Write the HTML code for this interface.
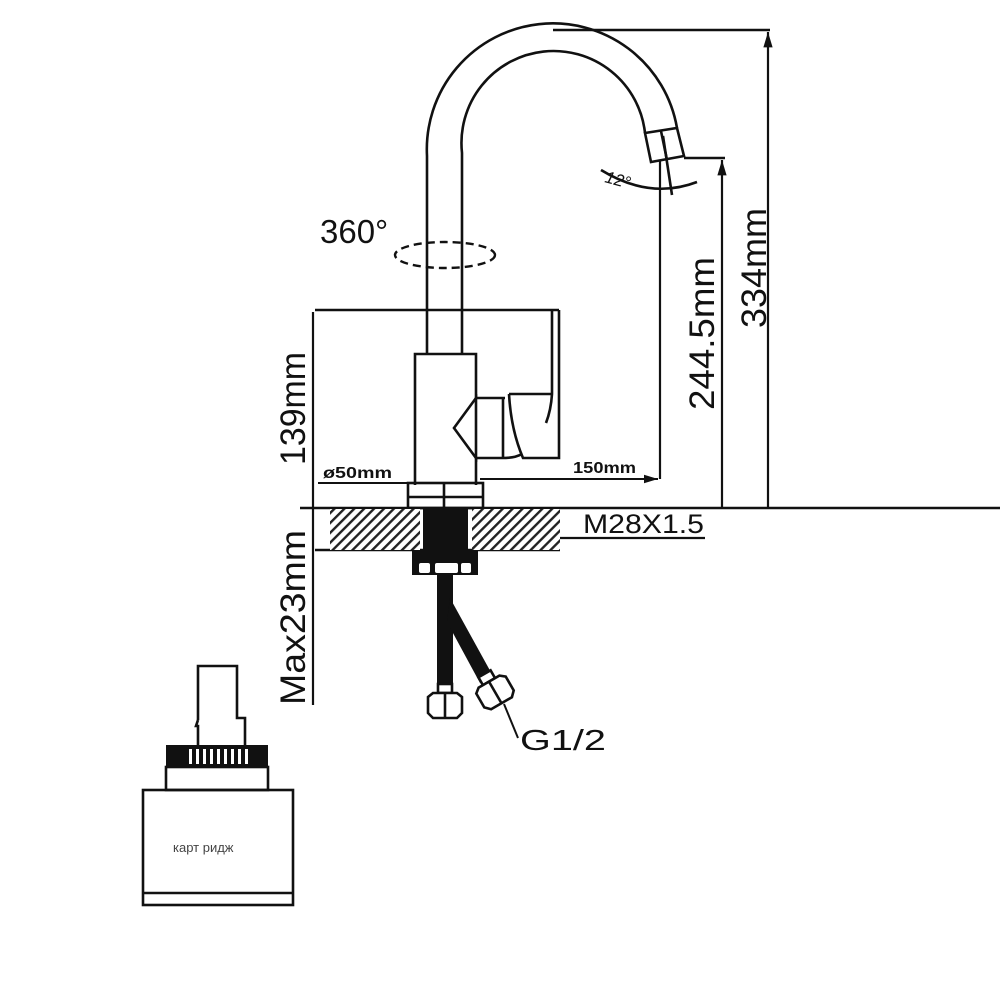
<!DOCTYPE html>
<html><head><meta charset="utf-8"><style>
html,body{margin:0;padding:0;background:#fff;width:1000px;height:1000px;overflow:hidden}
svg{display:block}
text{font-family:"Liberation Sans","DejaVu Sans",sans-serif;fill:#111}
</style></head><body>
<svg width="1000" height="1000" viewBox="0 0 1000 1000" xmlns="http://www.w3.org/2000/svg">
<defs>
<pattern id="h" patternUnits="userSpaceOnUse" width="7" height="7" patternTransform="rotate(45)">
<rect width="7" height="7" fill="#fff"/><rect width="2.4" height="7" fill="#222"/>
</pattern>
<marker id="a" viewBox="0 0 10 10" refX="10" refY="5" markerWidth="7" markerHeight="7" orient="auto-start-reverse"><path d="M0,2 L10,5 L0,8 z" fill="#111"/></marker>
</defs>
<g fill="none" stroke="#111" stroke-width="2.6">
<path d="M427,354 L427,156 A126,126 0 0 1 677,128"/>
<path d="M462,354 L462,153 A91,91 0 0 1 645,133"/>
<path d="M645,133 L677,128 L684,156 L651,162 Z"/>
<path d="M661,131 L667,160"/>
<path d="M663,136 L672,195"/>
<path d="M601,170 Q650,200 697,182"/>
<path d="M553,30 L770,30"/>
<path d="M768,508 L768,32" stroke-width="2.2" marker-end="url(#a)"/>
<path d="M684,158 L725,158"/>
<path d="M722,508 L722,160" stroke-width="2.2" marker-end="url(#a)"/>
<path d="M660,160 L660,479" stroke-width="2.2"/>
<path d="M480,479 L658,479" stroke-width="2" marker-end="url(#a)"/>
<path d="M315,310 L559,310"/>
<path d="M313,312 L313,705" stroke-width="2.2"/>
<path d="M318,483 L478,483" stroke-width="2"/>
<path d="M415,485 L415,354 L476,354 L476,398"/>
<path d="M476,458 L476,485"/>
<path d="M476,398 L454,428 L476,458 Z"/>
<path d="M476,398 L505,398 M503,398 L503,458 M476,458 L503,458 Q515,458 522,454"/>
<path d="M509,394 L552,394 M509,394 Q511,430 523,458 L559,458 L559,310"/>
<path d="M552,310 L552,394 Q551,410 546,423"/>
<rect x="408" y="483" width="75" height="25"/>
<path d="M444,483 L444,508 M408,497 L483,497"/>
<path d="M300,508 L1000,508"/>
<path d="M315,550 L560,550"/>
<path d="M472,538 L705,538" stroke-width="2.2"/>
</g>
<rect x="330" y="509" width="90" height="41" fill="url(#h)"/>
<rect x="472" y="509" width="88" height="41" fill="url(#h)"/>
<rect x="423" y="509" width="45" height="42" fill="#111"/>
<path d="M412,550 L478,550 L478,575 L412,575 Z" fill="#111"/>
<rect x="419" y="563" width="11" height="10" rx="2" fill="#fff"/>
<rect x="435" y="563" width="23" height="10" rx="2" fill="#fff"/>
<rect x="461" y="563" width="10" height="10" rx="2" fill="#fff"/>
<rect x="437" y="575" width="16" height="110" fill="#111"/>
<path d="M450,598 L493,676 L480,683 L447,622 Z" fill="#111"/>
<g fill="#fff" stroke="#111" stroke-width="2.6">
<rect x="438" y="684" width="14" height="9"/>
<path d="M428,697 L433,693 L457,693 L462,697 L462,713 L457,718 L433,718 L428,713 Z"/>
<path d="M445,693 L445,718" fill="none"/>
<g transform="rotate(-30 495 692)">
<rect x="488" y="671" width="14" height="9"/>
<path d="M478,684 L483,680 L507,680 L512,684 L512,700 L507,705 L483,705 L478,700 Z"/>
<path d="M495,680 L495,705" fill="none"/>
</g>
</g>
<path d="M504,704 L518,738" stroke="#111" stroke-width="2"/>
<ellipse cx="445" cy="255" rx="50" ry="13" fill="none" stroke="#111" stroke-width="2.4" stroke-dasharray="8,5"/>
<text x="320" y="243" font-size="33">360°</text>
<text x="323" y="478" font-size="16" font-weight="bold" textLength="69" lengthAdjust="spacingAndGlyphs">ø50mm</text>
<text x="573" y="473" font-size="16" font-weight="bold" textLength="63" lengthAdjust="spacingAndGlyphs">150mm</text>
<text x="583" y="533" font-size="27" textLength="121" lengthAdjust="spacingAndGlyphs">M28X1.5</text>
<text x="520" y="750" font-size="29" textLength="86" lengthAdjust="spacingAndGlyphs">G1/2</text>
<text transform="translate(305,465) rotate(-90)" font-size="35" textLength="113" lengthAdjust="spacingAndGlyphs">139mm</text>
<text transform="translate(305,705) rotate(-90)" font-size="35" textLength="175" lengthAdjust="spacingAndGlyphs">Max23mm</text>
<text transform="translate(714,410) rotate(-90)" font-size="35" textLength="153" lengthAdjust="spacingAndGlyphs">244.5mm</text>
<text transform="translate(766,328) rotate(-90)" font-size="35" textLength="120" lengthAdjust="spacingAndGlyphs">334mm</text>
<text transform="translate(604,182) rotate(15)" font-size="17" font-style="italic">12°</text>
<g fill="none" stroke="#111" stroke-width="2.6">
<path d="M198,720 L198,666 L237,666 L237,718 L245,718 L245,745"/>
<path d="M198,720 L196,726 L198,726 L198,745"/>
<rect x="166" y="767" width="102" height="23"/>
<rect x="143" y="790" width="150" height="115"/>
<path d="M143,893 L293,893"/>
</g>
<rect x="166" y="745" width="102" height="22" fill="#111"/>
<g fill="#fff">
<rect x="189" y="749" width="3" height="15"/><rect x="196" y="749" width="3" height="15"/><rect x="203" y="749" width="3" height="15"/><rect x="210" y="749" width="3" height="15"/><rect x="217" y="749" width="3" height="15"/><rect x="224" y="749" width="3" height="15"/><rect x="231" y="749" width="3" height="15"/><rect x="238" y="749" width="3" height="15"/><rect x="245" y="749" width="3" height="15"/>
</g>
<text x="173" y="852" font-size="13" style="fill:#444">карт ридж</text>
</svg>
</body></html>
